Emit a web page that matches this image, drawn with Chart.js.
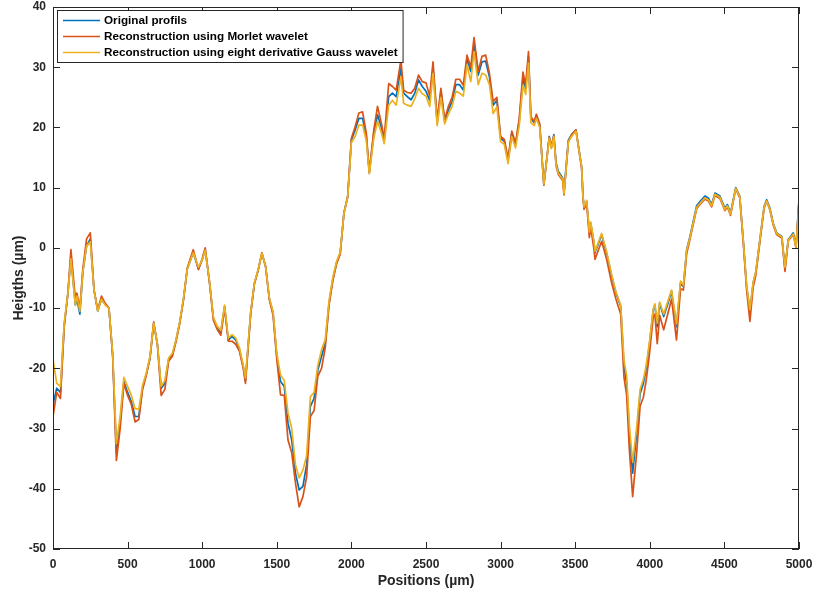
<!DOCTYPE html>
<html><head><meta charset="utf-8">
<script src="https://cdn.jsdelivr.net/npm/chart.js@4.4.1/dist/chart.umd.min.js"></script>
<style>html,body{margin:0;padding:0;background:#fff}#wrap{width:813px;height:594px;position:relative}</style>
</head><body><div id="wrap"><canvas id="c" width="813" height="594"></canvas></div>
<script>
// Positions (µm)
const positions = [0,25,50,75,100,120,150,160,180,200,225,250,275,300,325,350,375,400,425,450,475,500,525,550,575,600,625,650,675,700,725,750,775,800,825,850,875,900,940,975,1000,1020,1050,1075,1100,1125,1150,1175,1200,1225,1250,1275,1290,1325,1350,1375,1400,1425,1450,1475,1500,1525,1550,1575,1600,1625,1650,1675,1700,1725,1750,1775,1800,1825,1850,1875,1900,1925,1950,1975,2000,2025,2050,2075,2100,2120,2150,2175,2200,2220,2250,2275,2300,2332,2350,2375,2400,2425,2450,2475,2500,2525,2547,2575,2600,2625,2650,2675,2700,2725,2750,2775,2800,2822,2850,2875,2900,2925,2950,2975,3000,3025,3050,3075,3100,3125,3150,3168,3187,3203,3225,3240,3262,3290,3326,3340,3357,3372,3387,3416,3425,3454,3476,3505,3543,3552,3559,3577,3595,3604,3626,3633,3677,3710,3744,3773,3805,3827,3845,3863,3885,3912,3935,3957,3974,3996,4023,4034,4050,4066,4093,4122,4146,4179,4206,4225,4247,4270,4314,4336,4370,4392,4414,4437,4470,4503,4520,4541,4576,4603,4626,4649,4671,4693,4710,4738,4766,4783,4805,4827,4850,4885,4906,4928,4962,4980,5000];
// Heights (µm)
const original = [-26,-23.3,-24,-13,-7.5,-1.5,-9.5,-8.5,-11,-4,0.3,1.5,-7,-10.5,-8.5,-9.4,-10,-17.8,-34,-29,-22.2,-24,-25.5,-28,-28,-23.3,-21,-18.3,-12.5,-16,-23.3,-22.5,-18.5,-17.8,-15.3,-12.3,-8.5,-3.5,-0.8,-3.5,-2,-0.2,-5.9,-11.7,-13.3,-14,-9.7,-15.3,-14.7,-15.3,-16.9,-19.7,-22,-10.8,-5.9,-3.7,-0.9,-3.1,-8.4,-10.8,-18,-22.2,-23,-29.1,-31.9,-37.4,-40.2,-39.6,-36,-26.3,-25,-20.3,-18,-15.8,-9.2,-5.3,-2.5,-0.9,5.8,8.5,17.9,19.6,21.5,21.5,18.5,12.5,19,22.1,20.1,17.9,25.1,25.7,25.1,29.8,25.7,25.1,24.6,25.7,27.9,26.8,26,24.5,30,20.8,26,21,22.9,24.3,27.1,27.1,26.2,31.5,29.3,34,28.7,30.9,31,28.4,23.7,24.5,18.2,17.7,14.5,19,17.1,21,28.2,26.5,31.8,21.5,20.8,22,20.4,10.5,18.5,16.8,18.8,14.1,12.7,11.6,9.4,17.9,18.8,19.6,13.5,8.7,6.8,7.7,2.5,4.1,0.8,-0.8,2.2,-0.8,-4.6,-7.5,-9.7,-19.7,-22.5,-30.8,-37.4,-30.8,-24.2,-22.5,-20.3,-16.4,-10.3,-9.5,-13.1,-9.2,-11.4,-9.2,-7.2,-13.1,-5.8,-6.4,-0.3,2,7,7.7,8.6,8.3,7.2,9.1,8.6,6.6,7.2,5.8,10,8.6,1.4,-6.4,-10.5,-5.8,-4.1,1.4,6.9,8,6.6,4.1,2.5,1.9,-3.4,1.4,2.5,0.3,8];
const morlet = [-28,-24,-25,-13,-7.5,-0.3,-8.5,-7.5,-10,-3.5,1.5,2.5,-7,-10.3,-8,-9.2,-10,-18,-35.3,-30,-22.5,-24.5,-26,-28.9,-28.5,-23.5,-21.2,-18.3,-12.3,-16.2,-24.5,-23.5,-18.8,-18,-15.5,-12.5,-8.5,-3.3,-0.3,-3.6,-1.8,0,-6,-12,-13.5,-14.5,-10,-15.5,-15.5,-16,-17.2,-20,-22.5,-11,-5.9,-3.7,-0.8,-3.1,-8.6,-11.2,-18.5,-24.4,-24.5,-31.9,-34,-39,-43,-41.3,-38,-28,-27,-21.3,-20,-16.5,-9.5,-5.5,-2.7,-1,5.8,8.5,18.2,20.1,22.4,22.6,19,12.5,19.5,23.5,20.8,18.2,27.3,26.8,26.2,31.2,26.2,25.8,25.7,26.5,28.7,27.6,27.4,25.2,30.9,21.2,26.5,21.3,23.5,25,28,28,27,32,30,34.9,29.3,31.8,32,29,24.3,25,18.5,18,14.8,19.4,17.4,21.5,29.2,27,32.6,21.8,21,22.2,20.6,10.4,18.4,16.6,18.6,13.6,12.2,11.2,8.8,17.6,18.8,19.6,13.2,8.5,6.4,7.3,1.7,3.5,-0.3,-1.9,1.1,-1.8,-5.8,-8.5,-11,-21.5,-24.5,-33.5,-41.3,-34,-26.3,-24.8,-22.3,-18,-11.5,-11,-15.9,-11.2,-13.6,-10.8,-8.5,-15.3,-6.8,-7,-1,1.5,6.5,7.2,8.1,7.8,6.8,8.7,8.2,6.2,6.8,5.4,9.8,8.3,1,-7,-12.2,-6.5,-4.6,1,6.5,7.8,6.3,3.8,2.2,1.6,-3.9,1.2,2.2,0,7.8];
const gauss = [-18.5,-22.5,-23,-12.5,-7.5,-1.8,-9.5,-8,-10.5,-4,0.3,1,-7,-10.5,-8.5,-9.5,-10,-17.5,-32.5,-28,-21.5,-23,-24.5,-26.7,-26.8,-22.8,-20.8,-18,-12.5,-16,-23,-22,-18.3,-17.5,-15.2,-12.2,-8.3,-3.5,-0.8,-3.2,-2,-0.4,-5.7,-11.5,-13,-13.7,-9.5,-15,-14.4,-15,-16.6,-19.5,-21.6,-10.6,-5.8,-3.6,-0.9,-3,-8.3,-10.6,-17.5,-21.1,-22,-27.4,-30,-36,-38.2,-36.9,-34.5,-24.7,-24,-19.5,-16.9,-15.2,-8.8,-5,-2.3,-0.7,5.7,8.4,17.5,18.5,20.4,20.4,17.8,12.3,18.2,21,19.2,17.3,23.7,24.5,23.7,28.4,24,23.7,23.5,24.8,26.5,25.6,25.2,23.5,29,20.3,25,20.6,22.2,23.5,26,25.7,25.2,30.4,27.6,32.6,27.1,29,28.7,27.1,22.3,23.4,17.6,17.2,14,18.5,16.6,20.3,27,25.5,30.7,20.8,20.3,21.5,20,10.6,18.2,16.5,18.5,13.8,12.4,11.4,9,17.6,18.5,19.4,13.5,8.6,6.8,7.9,2.6,4.3,1,-0.6,2.4,-0.6,-4.4,-7.3,-9.5,-18.6,-21.3,-29.5,-35.6,-29.8,-23.5,-21.8,-19.8,-16,-10.2,-9.3,-12.5,-9,-11,-8.8,-7,-12.6,-5.5,-6.2,-0.4,1.8,6.7,7.4,8.3,8,7,8.9,8.4,6.4,7,5.6,9.9,8.5,1.4,-6.3,-10.3,-5.7,-4,1.4,6.8,7.8,6.4,4,2.4,1.8,-3.2,1.3,2.3,0.1,7.5];
const seriesNames = ['Original profils','Reconstruction using Morlet wavelet','Reconstruction using eight derivative Gauss wavelet'];
const seriesColors = ['#0072BD','#D95319','#EDB120'];
const xTickValues = [0,500,1000,1500,2000,2500,3000,3500,4000,4500,5000];
const yTickValues = [-50,-40,-30,-20,-10,0,10,20,30,40];
const xTitle = 'Positions (µm)';
const yTitle = 'Heigths (µm)';

const FONT = "'Liberation Sans', Arial, Helvetica, sans-serif";
const AXC = '#262626';

function pts(vals){ return positions.map((p,i)=>({x:p, y:vals[i]})); }
const allSeries = [original, morlet, gauss];

const frame = {
  id:'frame',
  afterDraw(chart){
    const {ctx, chartArea:a, scales:{x,y}} = chart;
    ctx.save();
    ctx.strokeStyle = AXC; ctx.lineWidth = 1;
    ctx.strokeRect(a.left+0.5, a.top+0.5, a.right-a.left-1, a.bottom-a.top-1);
    const L = 7;
    ctx.beginPath();
    xTickValues.forEach(v=>{
      const px = Math.round(x.getPixelForValue(v))+0.5;
      ctx.moveTo(px, a.bottom); ctx.lineTo(px, a.bottom-L);
      ctx.moveTo(px, a.top); ctx.lineTo(px, a.top+L);
    });
    yTickValues.forEach(v=>{
      const py = Math.round(y.getPixelForValue(v))+0.5;
      ctx.moveTo(a.left, py); ctx.lineTo(a.left+L, py);
      ctx.moveTo(a.right, py); ctx.lineTo(a.right-L, py);
    });
    ctx.stroke();
    // legend
    ctx.font = "bold 11.7px " + FONT;
    const tw = Math.max(...seriesNames.map(s=>ctx.measureText(s).width));
    const x0 = a.left+4, y0 = a.top+3;
    const w = 47 + tw + 5, h = 52;
    ctx.fillStyle = '#fff';
    ctx.fillRect(x0, y0, w, h);
    ctx.strokeStyle = AXC;
    ctx.strokeRect(x0+0.5, y0+0.5, w, h);
    chart.data.datasets.forEach((ds,i)=>{
      const cy = y0 + 10.5 + i*16;
      ctx.strokeStyle = ds.borderColor; ctx.lineWidth = 1.6;
      ctx.beginPath(); ctx.moveTo(x0+6, cy); ctx.lineTo(x0+43, cy); ctx.stroke();
      ctx.fillStyle = '#000'; ctx.textBaseline = 'middle'; ctx.textAlign = 'left';
      ctx.fillText(ds.label, x0+47, cy);
    });
    ctx.restore();
  }
};

function zeroPad(s){ s.paddingTop = 0; s.paddingBottom = 0; s.paddingLeft = 0; s.paddingRight = 0; }

new Chart(document.getElementById('c'), {
  type:'line',
  data:{
    datasets: allSeries.map((vals,i)=>({
      label: seriesNames[i],
      data: pts(vals),
      borderColor: seriesColors[i],
      backgroundColor: seriesColors[i],
      borderWidth: 1.7,
      pointRadius: 0,
      tension: 0,
      borderJoinStyle: 'round',
      fill: false,
      order: 3-i
    }))
  },
  options:{
    responsive:false,
    devicePixelRatio:1,
    animation:false,
    layout:{padding:{top:7,right:14,left:0,bottom:0}},
    plugins:{legend:{display:false}, tooltip:{enabled:false}},
    scales:{
      x:{
        type:'linear', min:0, max:5000,
        afterBuildTicks: s=>{ s.ticks = xTickValues.map(v=>({value:v})); },
        afterFit: s=>{ s.height = 45; zeroPad(s); },
        grid:{display:false, drawTicks:false},
        border:{display:false},
        ticks:{autoSkip:false, maxRotation:0, padding:8, color:AXC, font:{family:FONT, size:12, weight:'bold'}, callback:v=>String(v)},
        title:{display:true, text:xTitle, color:AXC, font:{family:FONT, size:14, weight:'bold'}, padding:{top:0,bottom:4}}
      },
      y:{
        type:'linear', min:-50, max:40,
        afterBuildTicks: s=>{ s.ticks = yTickValues.map(v=>({value:v})); },
        afterFit: s=>{ s.width = 53; zeroPad(s); },
        grid:{display:false, drawTicks:false},
        border:{display:false},
        ticks:{autoSkip:false, padding:7, color:AXC, font:{family:FONT, size:12, weight:'bold'}, callback:v=>String(v)},
        title:{display:true, text:yTitle, color:AXC, font:{family:FONT, size:14, weight:'bold'}, padding:{top:11,bottom:0}}
      }
    }
  },
  plugins:[frame]
});
</script>
</body></html>
